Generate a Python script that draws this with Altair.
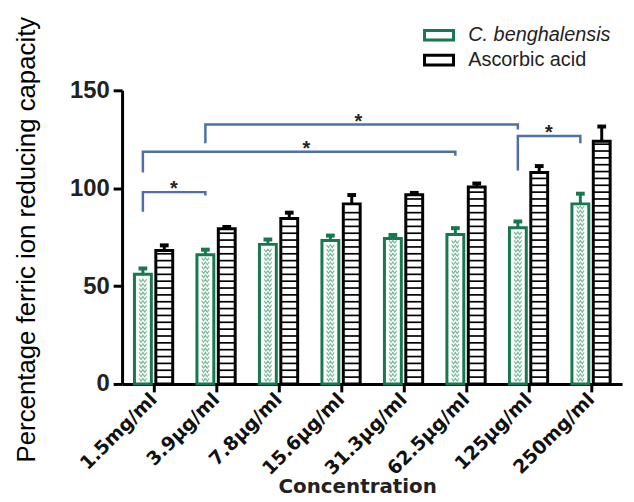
import altair as alt
import pandas as pd

categories = ["1.5mg/ml", "3.9μg/ml", "7.8μg/ml", "15.6μg/ml",
              "31.3μg/ml", "62.5μg/ml", "125μg/ml", "250mg/ml"]
series_names = ["C. benghalensis", "Ascorbic acid"]
cb_values = [56.0, 66.0, 71.3, 73.3, 74.3, 76.3, 79.8, 92.0]
cb_errors = [3.0, 2.6, 2.5, 2.5, 1.8, 3.3, 3.2, 5.2]
aa_values = [68.2, 79.3, 84.5, 92.0, 96.6, 100.6, 108.0, 124.0]
aa_errors = [2.6, 0.9, 3.0, 4.5, 1.0, 1.8, 3.3, 7.5]

# significance brackets (category index of each end, y-levels)
bracket_start = [0, 0, 1, 6]
bracket_end = [1, 5, 6, 7]
bracket_top = [98.0, 118.6, 132.5, 126.7]
bracket_left_foot = [88.0, 108.0, 123.0, 109.0]
bracket_right_foot = [96.3, 116.6, 130.0, 123.0]
star_pos = [0.33, 2.45, 3.28, 6.33]

GREEN = "#17784f"
BLUE = "#4d70a6"
FONT = "Liberation Sans"
OFFS = {series_names[0]: -0.167, series_names[1]: 0.175}

rows = []
for i, c in enumerate(categories):
    rows.append({"idx": i, "category": c, "series": series_names[0],
                 "value": cb_values[i], "err": cb_errors[i]})
    rows.append({"idx": i, "category": c, "series": series_names[1],
                 "value": aa_values[i], "err": aa_errors[i]})
df = pd.DataFrame(rows)

brows = []
for b in range(len(bracket_start)):
    xa = bracket_start[b] + OFFS[series_names[0]]
    xb = bracket_end[b] + OFFS[series_names[0]]
    pts = [(xa, bracket_left_foot[b]), (xa, bracket_top[b]),
           (xb, bracket_top[b]), (xb, bracket_right_foot[b])]
    for k, (px, py) in enumerate(pts):
        brows.append({"bracket": b, "pt": k, "bx": px, "by": py})
bdf = pd.DataFrame(brows)
sdf = pd.DataFrame({"sx": star_pos, "sy": bracket_top})

label_js = "[" + ",".join("'" + c + "'" for c in categories) + "]"

xs = alt.Scale(domain=[-0.5, 7.5], nice=False, zero=False)
ys = alt.Scale(domain=[0, 150], nice=False)

xaxis = alt.Axis(values=list(range(len(categories))), labelExpr=label_js + "[datum.value]",
                 grid=False, labelAngle=-45, labelAlign="right", labelBaseline="middle",
                 labelOverlap=False, labelFont="DejaVu Sans", labelFontWeight="bold",
                 labelFontSize=19, labelColor="#111", labelPadding=4,
                 domainColor="black", domainWidth=3, tickColor="black", tickWidth=3,
                 tickSize=8, titleFont="DejaVu Sans", titleFontWeight="bold",
                 titleFontSize=20, titleColor="#222", titleX=237, titleY=109,
                 titleBaseline="alphabetic", titleAnchor="start", titleAlign="center")
yaxis = alt.Axis(values=[0, 50, 100, 150], grid=False, labelFont=FONT,
                 labelFontWeight="bold", labelFontSize=24, labelColor="#222",
                 labelPadding=4, domainColor="black", domainWidth=3, tickColor="black",
                 tickWidth=3, tickSize=9, titleFont=FONT, titleFontWeight="normal",
                 titleFontSize=26, titleColor="black", titleX=-88, titleY=150,
                 titleBaseline="alphabetic", titleAlign="center", titleAngle=-90)

XT = "Concentration"
YT = "Percentage ferric ion reducing capacity"


def X(f):
    return alt.X(f, type="quantitative", scale=xs, axis=xaxis, title=XT)


def Y(f):
    return alt.Y(f, type="quantitative", scale=ys, axis=yaxis, title=YT)


stroke_scale = alt.Scale(domain=series_names, range=[GREEN, "black"])

base = alt.Chart(df).transform_calculate(
    xc="datum.idx + (datum.series == 'Ascorbic acid' ? 0.175 : -0.167)"
).transform_calculate(
    xl="datum.xc - 0.135", xr="datum.xc + 0.135",
    top="datum.value + datum.err", capl="datum.xc - 0.07", capr="datum.xc + 0.07",
    zero="0"
)

bars = base.mark_rect(fill="white", strokeWidth=3).encode(
    x=X("xl"), x2="xr:Q", y=Y("value"), y2="zero:Q",
    stroke=alt.Stroke("series:N", scale=stroke_scale, legend=alt.Legend(
        title=None, orient="none", legendX=308, legendY=-67,
        symbolType="M-1.5,-0.5H1.5V0.5H-1.5Z", symbolSize=380,
        symbolStrokeWidth=3, symbolFillColor="white",
        labelFont=FONT, labelFontSize=20, labelColor="#222",
        labelFontStyle={"expr": "datum.label == 'C. benghalensis' ? 'italic' : 'normal'"},
        labelOffset=18, rowPadding=2))
)

stripes = base.transform_filter("datum.series == 'Ascorbic acid'").transform_calculate(
    stripe="sequence(3.5, datum.value - 1, 3.5)"
).transform_flatten(["stripe"]).mark_rule(strokeWidth=1.7, color="black").encode(
    x=X("xl"), x2="xr:Q", y=Y("stripe")
)

pattern = base.transform_filter("datum.series == 'C. benghalensis'").transform_calculate(
    dot="sequence(2.2, datum.value - 1.5, 2.2)"
).transform_flatten(["dot"]).mark_point(
    shape="M-0.8,-0.3L-0.4,0.3L0,-0.3L0.4,0.3L0.8,-0.3", size=90, filled=False,
    strokeWidth=1.2, color="#7dbb9c", opacity=1
).encode(x=X("xc"), y=Y("dot"))

whisk = base.mark_rule(strokeWidth=3).encode(
    x=X("xc"), y=Y("value"), y2="top:Q",
    stroke=alt.Stroke("series:N", scale=stroke_scale, legend=None)
)
caps = base.mark_rule(strokeWidth=4).encode(
    x=X("capl"), x2="capr:Q", y=Y("top"),
    stroke=alt.Stroke("series:N", scale=stroke_scale, legend=None)
)

brackets = alt.Chart(bdf).mark_line(color=BLUE, strokeWidth=2.5).encode(
    x=X("bx"), y=Y("by"), detail="bracket:N", order="pt:Q"
)
stars = alt.Chart(sdf).mark_text(text="*", fontSize=20, font=FONT, fontWeight="bold",
                                 color="#222", baseline="alphabetic", dy=3).encode(
    x=X("sx"), y=Y("sy"))

chart = alt.layer(bars, pattern, stripes, whisk, caps, brackets, stars).properties(
    width=504, height=296,
    autosize=alt.AutoSizeParams(type="none"),
    padding={"left": 115, "top": 81, "right": 4, "bottom": 116},
).configure_view(stroke=None)

chart.save("out.html", embed_options={"renderer": "svg", "actions": False})
